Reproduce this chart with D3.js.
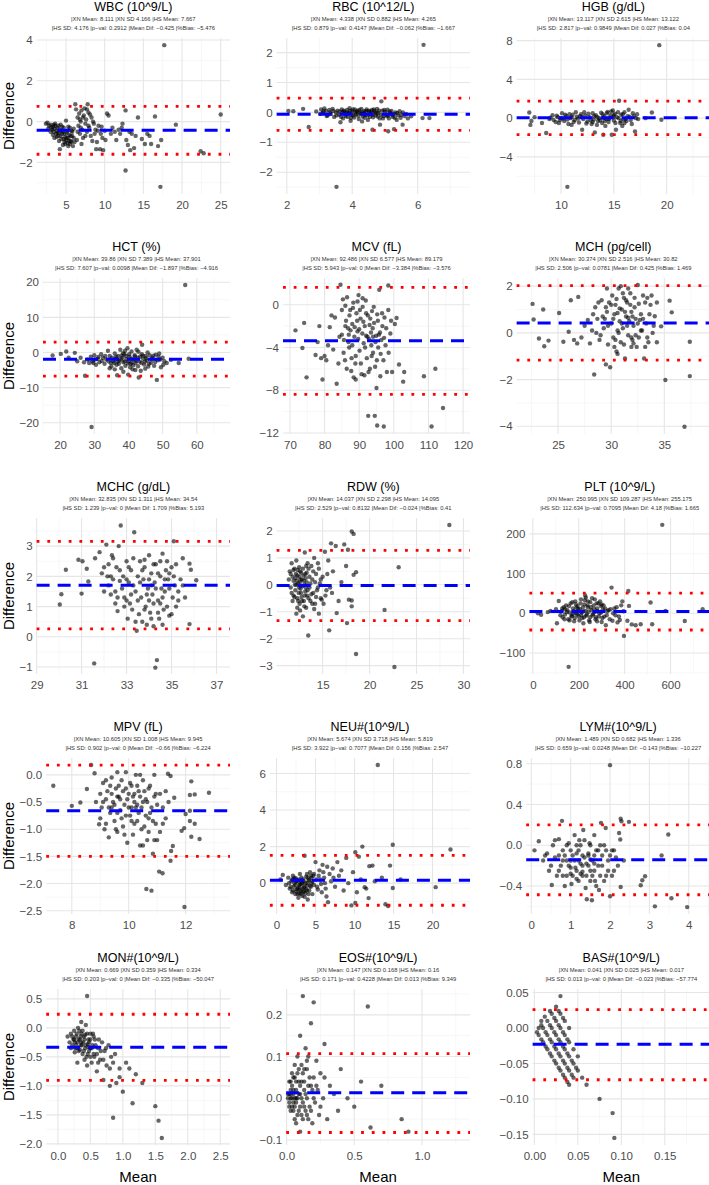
<!DOCTYPE html>
<html><head><meta charset="utf-8">
<script src="https://cdn.jsdelivr.net/npm/d3@7"></script>
<style>body{margin:0;background:#fff}svg{display:block}</style>
</head><body>
<svg id="chart" width="709" height="1185"></svg>
<script>
// ---------------- DATA ----------------
const titles = ["WBC (10^9/L)","RBC (10^12/L)","HGB (g/dL)","HCT (%)","MCV (fL)","MCH (pg/cell)","MCHC (g/dL)","RDW (%)","PLT (10^9/L)","MPV (fL)","NEU#(10^9/L)","LYM#(10^9/L)","MON#(10^9/L)","EOS#(10^9/L)","BAS#(10^9/L)"];
const subtitle1 = [
 "|XN Mean: 8.111 |XN SD 4.166 |HS Mean: 7.667",
 "|XN Mean: 4.338 |XN SD 0.882 |HS Mean: 4.265",
 "|XN Mean: 13.117 |XN SD 2.615 |HS Mean: 13.122",
 "|XN Mean: 39.86 |XN SD 7.389 |HS Mean: 37.901",
 "|XN Mean: 92.486 |XN SD 6.577 |HS Mean: 89.179",
 "|XN Mean: 30.374 |XN SD 2.516 |HS Mean: 30.82",
 "|XN Mean: 32.835 |XN SD 1.311 |HS Mean: 34.54",
 "|XN Mean: 14.037 |XN SD 2.298 |HS Mean: 14.095",
 "|XN Mean: 250.995 |XN SD 109.287 |HS Mean: 255.175",
 "|XN Mean: 10.605 |XN SD 1.008 |HS Mean: 9.945",
 "|XN Mean: 5.674 |XN SD 3.718 |HS Mean: 5.819",
 "|XN Mean: 1.489 |XN SD 0.682 |HS Mean: 1.336",
 "|XN Mean: 0.669 |XN SD 0.359 |HS Mean: 0.334",
 "|XN Mean: 0.147 |XN SD 0.168 |HS Mean: 0.16",
 "|XN Mean: 0.041 |XN SD 0.025 |HS Mean: 0.017"];
const subtitle2 = [
 "|HS SD: 4.176 |p\u2212val: 0.2912 |Mean Dif: \u22120.425 |%Bias: \u22125.476",
 "|HS SD: 0.879 |p\u2212val: 0.4147 |Mean Dif: \u22120.062 |%Bias: \u22121.667",
 "|HS SD: 2.817 |p\u2212val: 0.9849 |Mean Dif: 0.027 |%Bias: 0.04",
 "|HS SD: 7.607 |p\u2212val: 0.0098 |Mean Dif: \u22121.897 |%Bias: \u22124.916",
 "|HS SD: 5.943 |p\u2212val: 0 |Mean Dif: \u22123.384 |%Bias: \u22123.576",
 "|HS SD: 2.506 |p\u2212val: 0.0781 |Mean Dif: 0.425 |%Bias: 1.469",
 "|HS SD: 1.239 |p\u2212val: 0 |Mean Dif: 1.709 |%Bias: 5.193",
 "|HS SD: 2.529 |p\u2212val: 0.8132 |Mean Dif: \u22120.024 |%Bias: 0.41",
 "|HS SD: 112.634 |p\u2212val: 0.7095 |Mean Dif: 4.18 |%Bias: 1.665",
 "|HS SD: 0.902 |p\u2212val: 0 |Mean Dif: \u22120.66 |%Bias: \u22126.224",
 "|HS SD: 3.922 |p\u2212val: 0.7077 |Mean Dif: 0.156 |%Bias: 2.547",
 "|HS SD: 0.659 |p\u2212val: 0.0248 |Mean Dif: \u22120.143 |%Bias: \u221210.227",
 "|HS SD: 0.203 |p\u2212val: 0 |Mean Dif: \u22120.335 |%Bias: \u221250.047",
 "|HS SD: 0.171 |p\u2212val: 0.4228 |Mean Dif: 0.013 |%Bias: 9.349",
 "|HS SD: 0.013 |p\u2212val: 0 |Mean Dif: \u22120.023 |%Bias: \u221257.774"];
const meanDiff = [-0.425,-0.062,0.027,-1.897,-3.384,0.425,1.709,-0.024,4.18,-0.66,0.156,-0.143,-0.335,0.013,-0.023];
const upperLoA = [0.75,0.48,1.76,2.95,1.62,2.02,3.16,1.28,50.5,0.18,1.52,0.20,0.235,0.107,0.026];
const lowerLoA = [-1.60,-0.60,-1.71,-6.75,-8.39,-1.17,0.26,-1.33,-42.1,-1.50,-1.21,-0.486,-0.905,-0.082,-0.073];
const xDomains = [[1.2,26.2],[1.69,7.6],[5.8,24.1],[15,69.7],[68,122],[21.1,39.3],[29,37.6],[10.1,30.7],[-15,772],[7.1,13.56],[-0.85,24.8],[-0.13,4.54],[-0.18,2.65],[-0.003,1.355],[-0.002,0.202]];
const yDomains = [[-3.55,4.1],[-2.73,2.49],[-7.83,8.27],[-23.2,21.2],[-12.1,2.5],[-4.33,2.35],[-1.23,3.93],[-3.31,2.48],[-153,240],[-2.56,0.31],[-1.69,6.85],[-0.675,0.857],[-2.02,0.67],[-0.112,0.262],[-0.165,0.055]];
const xTicks = [[5,10,15,20,25],[2,4,6],[10,15,20],[20,30,40,50,60],[70,80,90,100,110,120],[25,30,35],[29,31,33,35,37],[15,20,25,30],[0,200,400,600],[8,10,12],[0,5,10,15,20],[0,1,2,3,4],[0,0.5,1,1.5,2,2.5],[0,0.5,1],[0,0.05,0.1,0.15]];
const yTicks = [[-2,0,2,4],[-2,-1,0,1,2],[-4,0,4,8],[-20,-10,0,10,20],[-12,-8,-4,0],[-4,-2,0,2],[-1,0,1,2,3],[-3,-2,-1,0,1,2],[-100,0,100,200],[-2.5,-2,-1.5,-1,-0.5,0],[0,2,4,6],[-0.4,0,0.4,0.8],[-2,-1.5,-1,-0.5,0,0.5],[-0.1,0,0.1,0.2],[-0.15,-0.1,-0.05,0,0.05]];
const xTickDecimals = [0,0,0,0,0,0,0,0,0,0,0,0,1,1,2];
const yTickDecimals = [0,0,0,0,0,0,0,0,0,1,0,1,1,1,2];

const wbcPts = [[2.4,-0.1],[2.6,-0.05],[2.8,-0.2],[3.0,-0.15],[3.1,-0.3],[3.2,-0.4],[3.3,-0.25],[3.4,-0.5],[3.5,-0.35],[3.6,-0.2],[3.7,-0.6],[3.8,-0.45],[3.9,-0.3],[4.0,-0.7],[4.1,-0.55],[4.2,-0.4],[4.3,-0.15],[4.4,-0.85],[4.5,-0.6],[4.6,-0.5],[4.7,-0.3],[4.8,-1.0],[4.9,-0.75],[5.0,-0.9],[5.1,-0.55],[5.2,-1.05],[5.3,-0.8],[5.4,-0.65],[5.5,-1.1],[5.6,-0.95],[5.7,-0.45],[5.8,-0.7],[5.9,-1.2],[6.0,-0.35],[4.2,-1.35],[3.6,-0.1],[5.0,0.05],[5.3,-0.25],[4.6,-1.15],[5.7,-1.0],[6.2,0.85],[6.3,0.6],[6.5,0.2],[6.6,-0.2],[6.7,0.4],[6.8,-0.6],[6.9,0.0],[7.0,0.55],[7.1,-0.4],[7.2,-0.8],[7.3,0.3],[7.4,0.65],[7.5,-0.1],[7.6,0.1],[7.7,-0.5],[7.8,0.85],[7.9,0.45],[8.0,-0.3],[8.2,-0.7],[8.3,0.2],[8.4,-0.95],[8.6,-0.1],[8.8,-0.4],[9.0,-1.0],[9.2,-0.2],[9.4,-1.35],[9.5,-0.6],[9.7,-0.8],[9.8,-1.4],[10.0,-0.45],[6.4,-0.9],[7.0,-1.1],[8.5,0.0],[10.3,0.4],[10.5,0.3],[11.0,-0.3],[11.3,-0.5],[11.8,-0.4],[12.0,-0.6],[12.3,-0.1],[12.7,0.55],[12.8,-0.9],[13.0,-1.15],[13.2,-0.5],[13.5,-0.6],[13.8,-1.3],[14.0,-0.7],[14.3,0.2],[14.8,-0.85],[15.2,-1.1],[15.5,-0.6],[15.8,-0.7],[16.0,-1.1],[16.5,0.25],[16.9,-1.2],[17.3,-0.9],[13.3,-1.4],[17.7,3.75],[12.7,-2.4],[17.2,-3.2],[19.2,-0.15],[22.4,-1.45],[22.8,-1.55],[25.0,0.35],
 [2.7,-0.35],[3.0,-0.5],[3.3,-0.65],[3.5,-0.8],[3.9,-0.55],[4.1,-0.95],[4.3,-0.7],[4.5,-0.25],[4.7,-0.85],[4.9,-1.1],[5.1,-0.8],[5.2,-0.45],[5.4,-0.95],[5.5,-0.3],[5.6,-0.7],[5.8,-0.5],[6.0,-0.8],[6.1,-1.0],[4.0,-0.2],[4.4,-0.45],[4.8,-0.6],[5.3,-1.2],[3.8,-0.75],[3.4,-0.15],[6.5,-0.5],[6.8,0.1],[7.2,0.2],[7.5,-0.7],[7.9,-0.2],[8.1,0.35],[8.7,-0.6],[9.1,-0.45],[9.6,-0.25],[10.1,-0.9],[10.8,-0.6],[11.5,-0.9],[6.9,-0.3],[7.7,0.6],[8.9,-1.35],[12.2,-0.3]];
const rbcPts = [[2.05,0.05],[2.2,0.04],[2.5,0.12],[2.9,0.03],[2.67,-0.49],[3.05,0.1],[3.1,-0.02],[3.15,0.13],[3.2,0.05],[3.25,-0.1],[3.3,0.08],[3.35,-0.05],[3.4,0.12],[3.45,-0.15],[3.5,0.0],[3.55,0.06],[3.6,-0.08],[3.64,-0.33],[3.68,0.1],[3.72,-0.2],[3.76,0.02],[3.8,-0.12],[3.84,0.08],[3.88,-0.04],[3.92,0.14],[3.96,-0.18],[4.0,0.03],[4.04,-0.1],[4.08,0.1],[4.12,-0.06],[4.16,0.06],[4.2,-0.22],[4.24,0.0],[4.28,0.12],[4.32,-0.14],[4.36,0.04],[4.4,-0.08],[4.44,0.1],[4.48,-0.25],[4.52,0.02],[4.56,-0.05],[4.6,0.08],[4.64,-0.16],[4.68,0.05],[4.72,-0.1],[4.76,0.12],[4.8,-0.02],[4.84,-0.2],[4.89,0.37],[4.92,0.06],[4.96,-0.12],[5.0,0.02],[5.04,-0.07],[5.08,0.09],[5.12,-0.2],[5.16,-0.03],[5.2,0.05],[5.24,-0.15],[5.28,-0.05],[5.32,0.0],[5.36,-0.25],[5.4,-0.1],[5.45,0.04],[5.5,-0.08],[5.6,-0.12],[5.8,-0.13],[3.9,-0.02],[4.3,-0.05],[4.5,0.06],[4.1,0.0],[3.7,0.0],[4.7,0.0],[5.1,-0.1],[6.18,2.26],[3.52,-2.49],[4.62,-0.58],[5.1,-0.63],[5.28,-0.56],[5.54,-0.41],[4.85,-0.41],[6.15,-0.19],[6.36,-0.19],[4.3,-0.3],[3.95,-0.28],
 [3.02,-0.05],[3.12,0.04],[3.22,-0.12],[3.32,0.0],[3.42,0.05],[3.52,-0.1],[3.62,0.03],[3.66,-0.15],[3.74,0.06],[3.78,-0.06],[3.82,0.0],[3.86,-0.15],[3.94,0.05],[3.98,-0.08],[4.02,0.1],[4.06,-0.17],[4.14,0.02],[4.18,-0.1],[4.22,0.08],[4.26,-0.04],[4.34,0.0],[4.38,-0.18],[4.42,0.04],[4.46,-0.1],[4.54,-0.15],[4.58,0.02],[4.62,-0.08],[4.66,0.1],[4.74,-0.03],[4.78,-0.14],[4.82,0.06],[4.88,-0.08],[4.94,-0.2],[4.98,0.08],[5.06,-0.12],[5.14,0.03],[5.22,-0.08],[5.3,-0.18],[5.38,-0.02],[5.48,-0.18],[5.55,0.0],[5.65,-0.05],[5.7,-0.2]];
const hgbPts = [[7.0,0.58],[7.1,-0.7],[7.2,-0.3],[7.5,0.1],[8.2,-0.5],[8.6,-1.54],[8.9,-0.1],[9.2,0.3],[9.5,-0.4],[9.7,0.1],[9.9,-0.2],[10.1,0.5],[10.3,-0.3],[10.5,0.2],[10.7,-0.6],[10.9,0.0],[11.1,0.35],[11.3,-0.2],[11.5,0.15],[11.7,-0.45],[11.9,0.4],[12.0,-1.2],[12.1,-0.1],[12.3,0.25],[12.5,-0.35],[12.7,0.1],[12.9,-0.6],[13.0,0.5],[13.1,-0.15],[13.2,-1.47],[13.3,0.3],[13.5,-0.3],[13.6,0.0],[13.8,0.55],[13.9,-0.5],[14.0,-1.71],[14.1,0.2],[14.3,-0.1],[14.4,0.65],[14.5,-0.4],[14.6,0.05],[14.7,0.3],[14.8,-1.71],[14.9,0.8],[15.0,-0.25],[15.1,0.45],[15.2,-1.2],[15.3,0.1],[15.5,1.8],[15.6,-0.5],[15.7,0.35],[15.9,-0.1],[16.0,0.6],[16.2,-0.3],[16.4,0.86],[16.5,0.15],[16.7,-0.6],[16.9,0.2],[17.0,-1.37],[17.2,0.4],[17.3,-0.1],[12.2,0.6],[11.0,-0.7],[10.2,-0.05],[13.4,-0.7],[14.2,-0.8],[15.8,-0.8],[9.0,0.05],[16.8,0.5],[19.3,7.53],[10.6,-7.09],[18.6,0.58],[19.5,-0.17],[18.0,0.0],
 [9.3,-0.2],[9.6,0.25],[9.8,-0.5],[10.0,0.0],[10.4,0.35],[10.6,-0.15],[10.8,0.4],[11.2,-0.4],[11.4,0.6],[11.6,-0.05],[11.8,0.2],[12.4,-0.55],[12.6,0.45],[12.8,-0.2],[13.15,0.2],[13.45,0.1],[13.7,-0.25],[13.95,0.4],[14.15,-0.3],[14.35,0.5],[14.55,-0.1],[14.75,0.7],[14.95,0.1],[15.15,-0.5],[15.4,0.6],[15.45,0.0],[15.65,-0.3],[15.85,0.4],[16.1,-0.1],[16.3,0.2],[16.6,-0.2],[17.1,0.0],[12.0,0.1],[13.0,-0.4],[14.0,0.0],[15.0,0.3],[16.0,-0.5],[11.0,0.1]];
const hctPts = [[17.8,-0.85],[20.2,-0.4],[21.8,0.3],[24.3,-0.1],[22.5,-1.5],[25.0,-2.5],[26.0,-1.5],[27.3,-6.6],[28.0,-2.0],[28.5,-3.0],[29.0,-1.2],[29.5,-2.5],[30.0,-0.8],[30.5,-3.5],[31.0,-1.8],[31.5,-2.8],[32.0,-0.5],[32.5,-1.5],[33.0,-3.2],[33.5,-2.0],[34.0,0.5],[34.5,-1.0],[35.0,-4.0],[35.5,-2.5],[36.0,-0.3],[36.2,-1.8],[36.5,-3.5],[36.7,-6.5],[37.0,-1.0],[37.3,-2.3],[37.6,0.8],[37.9,-4.5],[38.2,-1.5],[38.5,-2.8],[38.8,-0.5],[39.1,-3.8],[39.4,-1.9],[39.7,1.2],[39.9,-6.3],[40.0,-2.5],[40.3,-1.2],[40.6,-3.2],[40.9,0.3],[41.2,-4.8],[41.5,-2.0],[41.8,-0.8],[42.1,-3.0],[42.4,0.8],[42.7,-1.5],[43.0,-7.1],[43.3,-2.6],[43.6,-5.2],[43.9,-0.5],[44.0,2.2],[44.3,-1.8],[44.6,-3.4],[45.0,-1.0],[45.4,-2.3],[45.8,-4.0],[46.2,-0.8],[46.6,-2.9],[47.0,-1.5],[47.5,-3.8],[48.0,-0.6],[48.3,-7.8],[48.6,-2.2],[49.0,-0.3],[49.5,-4.2],[50.0,-1.5],[50.5,-2.5],[51.2,-3.0],[52.4,-2.1],[54.7,-3.0],[56.6,19.2],[57.6,-1.8],[29.2,-21.2],[34.8,-3.0],[38.0,-0.9],[41.0,-2.9],[44.9,-4.6],[39.0,0.5],[36.8,-2.6],[42.8,-3.9],
 [33.2,-1.0],[34.2,-2.5],[35.2,-1.5],[35.8,-3.0],[36.4,-1.2],[37.2,-3.2],[37.8,-2.0],[38.4,-0.2],[38.9,-2.6],[39.3,-1.0],[39.8,-3.1],[40.2,-0.5],[40.8,-1.8],[41.4,-3.6],[41.9,-1.1],[42.3,-2.4],[42.9,0.2],[43.4,-1.2],[43.8,-3.0],[44.2,-0.9],[44.8,-2.6],[45.2,-1.6],[45.6,0.0],[46.0,-3.2],[46.8,-1.9],[47.3,-0.9],[47.8,-2.7],[48.8,-1.2],[49.3,-2.0],[50.2,-3.5],[32.2,-2.4],[31.2,-1.3],[30.2,-2.0],[27.0,-2.8],[29.7,-3.0],[34.5,-4.5],[36.0,-4.8],[38.5,-5.5],[40.5,-4.2],[42.0,-5.0]];
const mcvPts = [[71.6,-2.4],[74.1,-1.7],[73.6,-4.05],[74.8,-6.8],[78.0,-3.5],[78.5,-2.0],[77.4,-4.7],[79.0,-5.0],[79.4,-7.0],[80.0,-4.8],[80.5,-5.2],[81.0,-3.8],[81.5,-2.1],[82.0,-1.0],[82.5,-4.2],[83.0,-1.2],[83.5,-7.4],[84.0,-5.5],[84.6,1.87],[85.0,-2.8],[85.3,0.5],[85.6,-3.3],[85.9,-5.2],[86.2,-1.5],[86.5,0.7],[86.8,-2.2],[87.1,-4.0],[87.4,-0.5],[87.7,-6.2],[88.0,-1.8],[88.3,0.2],[88.6,-3.0],[88.9,-5.5],[89.2,-0.8],[89.5,-2.5],[89.8,0.9],[90.1,-4.3],[90.4,-1.3],[90.7,-6.5],[91.0,-0.2],[91.3,-3.6],[91.6,-2.0],[91.9,0.4],[92.2,-5.0],[92.5,-1.0],[92.8,-3.2],[93.1,-6.0],[93.4,-2.6],[93.7,-0.6],[94.0,-4.5],[94.3,-1.7],[94.6,-5.8],[94.9,-2.9],[95.2,-0.9],[95.5,-4.0],[95.8,1.4],[96.1,-6.7],[96.4,-3.3],[96.7,-2.0],[97.0,-5.2],[97.3,-1.2],[97.6,-3.8],[98.0,-6.3],[98.4,1.8],[98.4,-0.5],[99.0,-2.7],[99.5,-6.3],[100.3,-1.8],[100.8,-1.25],[101.5,-5.6],[102.7,-7.2],[103.0,-6.3],[108.7,-6.7],[112.0,-6.0],[114.2,-9.66],[110.9,-11.4],[92.6,-10.4],[94.5,-10.4],[95.2,-11.3],[97.1,-11.4],[95.0,-7.8],[89.0,-7.0],[91.5,-6.6],[87.5,-2.4],[90.0,-2.3],[92.0,-2.9],[93.0,-1.9],[88.0,-3.8],[86.0,-0.1],[94.0,-3.0],[96.0,-2.6],
 [84.3,-3.0],[85.0,-0.5],[85.5,-4.5],[86.0,-2.0],[86.4,-6.0],[86.9,-3.5],[87.2,-1.0],[87.8,-5.0],[88.2,-0.3],[88.7,-2.1],[89.0,-4.8],[89.4,-1.5],[89.7,-3.2],[90.2,-0.5],[90.5,-5.5],[90.9,-2.7],[91.2,-1.6],[91.7,-4.0],[92.0,-0.8],[92.4,-3.0],[92.7,-6.3],[93.2,-1.3],[93.6,-4.8],[93.9,-2.2],[94.2,-0.2],[94.7,-3.5],[95.1,-5.2],[95.4,-1.5],[95.7,-2.8],[96.2,-4.6],[96.6,-0.8],[97.2,-3.1],[97.8,-2.2],[98.5,-4.5],[99.2,-1.5],[89.5,0.3],[91.0,0.6],[87.0,-2.8],[93.5,-3.8],[88.4,-6.8]];
const mchPts = [[22.6,1.24],[22.7,0.57],[23.6,1.0],[23.2,-0.24],[23.7,-0.57],[24.1,-0.33],[25.1,0.85],[25.5,-0.38],[26.2,1.4],[26.0,0.05],[26.5,-0.3],[26.8,-0.45],[26.9,1.54],[27.2,-0.2],[27.5,0.3],[27.8,0.55],[28.0,-0.45],[28.2,0.1],[28.4,-1.78],[28.5,1.1],[28.7,0.6],[28.9,-0.3],[29.1,1.4],[29.3,0.2],[29.5,-1.35],[29.6,0.9],[29.7,-0.5],[29.8,1.3],[29.9,-1.47],[30.0,0.4],[30.1,1.6],[30.2,-0.2],[30.3,0.8],[30.4,1.2],[30.5,-0.8],[30.6,0.1],[30.7,1.9],[30.8,0.5],[30.9,-0.4],[31.0,1.0],[31.1,0.2],[31.2,1.5],[31.3,-1.1],[31.4,0.7],[31.5,1.3],[31.6,-0.1],[31.7,0.5],[31.8,1.7],[31.9,0.9],[32.0,-0.3],[32.1,0.3],[32.2,1.1],[32.3,0.6],[32.5,2.05],[32.6,-0.2],[32.8,0.8],[33.0,1.6],[33.1,-1.1],[33.3,0.4],[33.5,-0.4],[33.7,1.2],[33.9,0.0],[34.1,0.71],[34.3,-0.4],[34.7,0.28],[35.1,-2.02],[35.5,1.38],[35.7,0.88],[36.9,-4.02],[37.4,-1.85],[37.4,-0.38],[30.6,-0.9],[31.9,-0.6],[29.4,0.6],[32.9,0.1],[30.9,2.0],[31.6,1.9],[28.6,0.0],[33.4,1.5],[32.4,-0.6],
 [28.3,0.8],[28.8,1.3],[29.0,-0.1],[29.2,0.7],[29.5,1.1],[29.7,0.3],[30.0,1.2],[30.2,0.6],[30.4,-0.3],[30.5,1.45],[30.7,0.0],[30.8,1.05],[31.0,0.4],[31.2,-0.5],[31.3,0.9],[31.5,0.3],[31.6,0.65],[31.8,1.2],[31.9,-0.2],[32.0,0.7],[32.2,1.5],[32.3,-0.1],[32.5,0.4],[32.6,1.25],[32.8,0.1],[33.0,0.6],[33.2,1.3],[33.4,-0.2],[33.6,0.8],[33.8,1.6],[34.0,0.3],[34.3,1.3],[29.6,1.9],[31.1,1.7],[30.3,-0.6],[32.1,-0.45],[33.2,-0.6],[31.4,1.4],[30.6,0.85],[32.7,0.55]];
const mchcPts = [[30.03,1.07],[30.1,1.41],[30.3,2.22],[30.86,2.55],[31.04,2.5],[31.0,1.43],[31.23,2.25],[31.3,1.83],[31.56,-0.88],[31.6,2.6],[31.8,2.8],[31.9,2.1],[32.0,1.5],[32.1,3.05],[32.15,2.0],[32.2,2.4],[32.3,1.4],[32.35,2.7],[32.4,1.9],[32.5,1.1],[32.55,2.3],[32.6,0.85],[32.65,3.0],[32.74,3.68],[32.8,1.6],[32.85,2.0],[32.9,1.3],[33.0,2.5],[33.05,0.6],[33.1,1.8],[33.15,1.1],[33.2,2.2],[33.25,0.9],[33.34,3.46],[33.4,1.5],[33.45,0.2],[33.5,2.0],[33.55,0.75],[33.6,2.5],[33.65,1.3],[33.7,0.5],[33.75,1.9],[33.8,2.3],[33.85,1.0],[33.9,0.4],[33.95,1.6],[34.0,2.7],[34.05,0.8],[34.1,2.1],[34.15,1.4],[34.2,0.35],[34.25,1.8],[34.28,-1.02],[34.35,-0.77],[34.3,2.4],[34.4,1.2],[34.45,0.6],[34.5,2.0],[34.55,1.6],[34.6,2.75],[34.65,0.9],[34.7,1.5],[34.75,2.2],[34.8,1.0],[34.85,1.9],[34.9,0.7],[35.0,2.3],[35.05,1.3],[35.1,3.16],[35.15,1.7],[35.2,1.0],[35.3,1.5],[35.5,2.6],[35.6,1.3],[35.8,0.42],[35.8,2.42],[35.86,2.22],[36.1,1.87],[33.3,1.7],[34.0,1.2],[32.7,1.85],[33.8,2.55],[34.4,2.1],
 [32.0,2.3],[32.2,1.7],[32.4,2.6],[32.5,1.5],[32.7,2.2],[32.9,1.0],[33.0,1.9],[33.2,1.4],[33.3,2.6],[33.5,1.2],[33.6,1.8],[33.7,2.2],[33.9,1.4],[34.0,1.9],[34.1,0.6],[34.2,2.4],[34.3,1.6],[34.4,0.8],[34.5,2.5],[34.6,1.3],[34.7,1.9],[34.8,2.5],[34.9,1.6],[35.0,0.75],[35.1,2.0],[35.2,2.4],[35.3,1.2],[35.4,1.9],[34.2,1.1],[33.4,0.5],[34.6,0.4],[33.1,2.3],[32.6,1.3],[34.9,2.1],[35.5,1.7],[33.8,0.9],[34.5,1.1],[33.0,1.2],[32.3,2.0],[34.1,1.7]];
const rdwPts = [[11.4,0.2],[11.5,0.5],[11.6,-0.1],[11.7,0.8],[11.8,0.3],[11.9,-0.4],[12.0,0.6],[12.05,0.0],[12.1,-0.2],[12.15,0.4],[12.2,-1.07],[12.25,0.15],[12.3,-0.5],[12.35,0.55],[12.4,0.05],[12.45,-0.3],[12.5,0.3],[12.55,-0.7],[12.6,0.1],[12.65,-0.15],[12.7,0.45],[12.75,-0.45],[12.8,0.2],[12.85,-0.05],[12.9,-1.17],[12.95,0.35],[13.0,-0.6],[13.05,0.0],[13.1,1.2],[13.15,-0.25],[13.2,0.25],[13.25,-0.85],[13.3,0.1],[13.35,-0.4],[13.47,-1.88],[13.5,0.6],[13.6,-0.1],[13.7,-0.6],[13.8,0.7],[13.9,0.2],[14.0,-0.3],[14.1,1.0],[14.2,-0.7],[14.3,0.4],[14.4,-0.2],[14.5,0.8],[14.6,-1.07],[14.7,0.05],[14.8,-0.5],[15.0,0.3],[15.25,1.23],[15.3,-0.4],[15.5,0.4],[15.7,-1.69],[15.8,-0.1],[15.9,1.54],[16.1,0.5],[16.4,1.44],[16.5,-1.05],[16.7,-0.6],[17.0,0.1],[17.3,1.5],[17.5,0.7],[17.6,-1.42],[17.8,-0.55],[18.1,1.98],[18.1,-0.8],[18.1,-0.58],[18.3,1.89],[18.3,0.37],[18.56,0.47],[18.56,-2.57],[17.7,1.3],[16.0,-0.3],[21.6,-0.93],[22.65,-3.05],[23.1,0.65],[28.5,2.22],[12.2,0.9],[11.8,-0.6],[13.4,0.8],[12.6,-0.95],[14.9,-0.55],
 [11.6,0.4],[11.7,-0.3],[11.9,0.15],[12.0,-0.45],[12.1,0.25],[12.2,0.0],[12.3,0.35],[12.4,-0.6],[12.5,-0.1],[12.6,0.5],[12.7,-0.3],[12.8,-0.6],[12.9,0.6],[13.0,0.15],[13.1,-0.4],[13.2,-0.1],[13.3,0.45],[13.4,-0.2],[13.5,-0.5],[13.6,0.3],[13.7,0.05],[13.8,-0.35],[13.9,-0.7],[14.0,0.5],[14.2,0.1],[14.3,-0.45],[14.5,-0.1],[14.6,0.6],[14.8,0.2],[15.1,-0.7],[15.4,-0.2],[15.6,0.9],[12.3,-0.85],[12.5,0.65],[13.05,-0.8],[13.25,0.7],[11.9,0.55],[12.65,0.2],[13.15,0.4],[14.1,-0.9]];
const pltPts = [[22,0],[36,-4],[65,3],[77,6],[101,10],[105,-25],[113,31],[125,5],[130,-10],[135,15],[140,-3],[145,20],[150,8],[155,-15],[156,-135],[160,2],[165,25],[170,-6],[175,12],[180,-20],[185,30],[190,0],[195,18],[200,-8],[205,10],[210,35],[215,-12],[220,5],[225,22],[228,45],[231,39.5],[235,-3],[240,15],[245,-18],[250,28],[255,8],[260,-5],[265,20],[270,35],[275,-10],[280,12],[285,25],[290,0],[296,18.5],[300,-22],[305,10],[311,-8.4],[318,-30],[325,5],[335,-15],[343,64.7],[347,-19],[355,12],[360,-5],[369,-23],[379,-17],[385,20],[390,30],[397,-57],[412,-19],[416,56],[419,18.5],[431,-28],[448,-30],[470,-27.7],[513,27],[520,-27.7],[564,222.7],[578,6],[662,-19.3],[740,10],[175,-2],[210,-4],[250,-10],[190,14],[230,6],[270,3],[300,22],[160,-18],[240,30],[280,-20],[140,10],[220,-25],[330,8],[395,5],
 [120,-5],[128,12],[138,-15],[148,3],[158,18],[168,-8],[172,28],[178,5],[183,-12],[188,22],[193,-3],[198,10],[203,-18],[208,25],[213,2],[218,15],[223,-10],[227,33],[233,-6],[238,20],[243,4],[248,-22],[253,15],[258,38],[263,-2],[268,10],[273,-15],[278,25],[283,5],[288,-8],[293,30],[298,2],[303,-12],[308,20],[315,12],[322,-5],[338,10],[350,0],[365,15],[375,-8]];
const mpvPts = [[7.35,-0.2],[8.0,-0.57],[8.3,-0.51],[8.53,-0.26],[8.68,0.18],[8.8,0.03],[8.96,-0.91],[8.85,-0.5],[9.0,-0.35],[9.05,-0.6],[9.1,-0.15],[9.15,-1.0],[9.2,-0.45],[9.25,-0.3],[9.3,-1.15],[9.35,-0.7],[9.4,-0.05],[9.45,-0.5],[9.5,-0.85],[9.55,-0.25],[9.6,-1.05],[9.65,-0.4],[9.7,-0.65],[9.75,-0.1],[9.8,-0.95],[9.85,-0.55],[9.9,0.05],[9.95,-1.25],[10.0,-0.35],[10.05,-0.75],[10.1,-0.2],[10.15,-1.1],[10.2,-0.5],[10.25,0.0],[10.3,-0.85],[10.35,-0.3],[10.4,-1.3],[10.45,-0.6],[10.5,-0.1],[10.55,-0.95],[10.6,-0.45],[10.62,-2.1],[10.65,-1.2],[10.7,-0.25],[10.75,-0.7],[10.8,-2.13],[10.85,-1.45],[10.9,-0.4],[10.95,-0.9],[11.0,-0.55],[11.07,-1.78],[11.1,-1.05],[11.19,-1.81],[11.2,-0.6],[11.3,-0.8],[11.38,0.02],[11.47,-0.02],[11.47,-1.58],[11.49,-1.4],[11.55,-1.31],[11.6,-0.42],[11.86,-1.03],[11.95,-0.98],[11.96,-2.43],[12.0,-0.72],[12.15,-0.66],[12.15,-0.85],[12.15,-0.37],[12.2,-0.12],[12.2,-1.14],[12.32,-0.36],[12.32,-0.9],[12.49,-1.18],[12.82,-0.33],[9.6,-0.4],[10.3,-0.55],[9.9,-0.75],[10.0,-0.6],[10.7,-0.8],[10.2,-0.35],[9.4,-0.6],[11.4,-0.5],[10.5,-1.3],[9.2,-0.9],[9.6,0.05],[10.4,0.0],[10.9,0.0],
 [9.0,-0.8],[9.1,-0.5],[9.2,-0.1],[9.3,-0.6],[9.4,-0.35],[9.5,-0.55],[9.55,-1.0],[9.65,-0.2],[9.7,-0.45],[9.75,-0.8],[9.8,-0.3],[9.85,-1.1],[9.95,-0.45],[10.05,-0.15],[10.1,-0.6],[10.15,-0.4],[10.2,-0.9],[10.25,-0.6],[10.3,-0.2],[10.35,-0.7],[10.4,-0.4],[10.45,-1.0],[10.55,-0.3],[10.6,-0.75],[10.65,-0.5],[10.7,-1.05],[10.75,-0.2],[10.8,-0.6],[10.85,-0.85],[10.95,-0.35],[11.0,-1.2],[11.1,-0.35],[11.2,-0.9],[9.35,-0.2],[9.9,-0.25],[10.1,-0.85],[10.5,-0.5],[9.6,-0.7],[10.9,-1.2],[11.3,-0.3]];
const neuPts = [[0.5,0.2],[0.8,0.45],[1.2,-0.1],[1.5,0.3],[1.7,-0.3],[1.9,0.1],[2.0,-0.5],[2.1,0.4],[2.2,-0.2],[2.3,0.0],[2.4,-0.6],[2.5,0.25],[2.6,-0.35],[2.7,0.1],[2.8,-0.8],[2.9,-0.1],[3.0,0.5],[3.1,-0.45],[3.2,-0.05],[3.3,-0.7],[3.4,0.2],[3.5,-0.25],[3.6,1.5],[3.7,-0.55],[3.8,0.35],[3.9,-0.15],[4.0,-0.9],[4.1,0.15],[4.2,-0.4],[4.3,0.6],[4.4,-0.2],[4.5,0.0],[4.6,-0.6],[4.7,0.4],[4.8,-0.1],[5.0,1.15],[5.1,0.2],[5.3,-0.35],[5.5,0.7],[5.7,-0.05],[5.9,1.0],[6.1,0.3],[6.3,-0.3],[6.4,-0.73],[6.6,-1.04],[6.8,0.5],[7.0,0.1],[7.2,0.8],[7.5,-0.2],[7.8,1.15],[8.0,0.4],[8.3,0.7],[8.6,-0.4],[8.94,1.38],[9.2,0.0],[9.6,-1.22],[9.8,0.6],[10.1,1.69],[10.1,-1.09],[10.3,-0.5],[10.55,1.45],[10.8,0.2],[11.0,2.0],[11.3,-0.22],[11.5,-0.3],[11.8,-0.82],[11.9,0.93],[12.3,0.96],[12.6,0.1],[12.98,6.47],[13.5,0.3],[13.96,-1.16],[14.3,-1.25],[14.55,0.96],[14.9,2.1],[14.9,-0.27],[15.9,0.2],[20.4,-0.22],[22.3,1.84],[3.3,0.0],[2.7,-0.3],[3.9,-0.4],[2.2,0.2],[3.1,0.1],[4.5,0.3],[3.6,-0.2],[2.9,-0.55],
 [1.6,0.0],[1.8,-0.2],[2.0,0.2],[2.1,-0.4],[2.3,0.3],[2.4,-0.1],[2.5,-0.45],[2.6,0.15],[2.8,-0.25],[2.9,0.2],[3.0,-0.35],[3.1,-0.6],[3.2,0.3],[3.3,-0.3],[3.4,-0.5],[3.5,0.1],[3.6,-0.75],[3.7,0.0],[3.8,-0.35],[3.9,0.5],[4.0,0.0],[4.1,-0.6],[4.2,0.2],[4.3,-0.15],[4.4,0.4],[4.6,0.1],[4.8,0.5],[5.2,-0.2],[5.4,0.4],[5.6,0.2],[5.8,-0.5],[6.0,0.6],[6.2,0.0],[6.5,0.9],[7.3,0.3],[2.5,0.1],[3.0,-0.1],[3.5,-0.45],[2.7,-0.6],[4.0,0.3]];
const lymPts = [[0.08,-0.05],[0.19,0.04],[0.3,-0.15],[0.4,-0.08],[0.45,-0.25],[0.52,-0.39],[0.55,0.0],[0.6,-0.12],[0.65,-0.3],[0.7,0.06],[0.75,-0.2],[0.78,0.24],[0.8,-0.05],[0.85,-0.4],[0.9,-0.15],[0.95,0.02],[1.0,-0.28],[1.02,-0.38],[1.05,-0.1],[1.1,0.1],[1.12,-0.22],[1.15,-0.33],[1.2,-0.05],[1.22,0.05],[1.25,-0.18],[1.3,-0.3],[1.32,0.15],[1.35,-0.12],[1.38,-0.42],[1.41,-0.53],[1.45,-0.08],[1.48,0.02],[1.5,-0.25],[1.54,-0.54],[1.55,-0.15],[1.6,0.1],[1.62,-0.35],[1.65,-0.05],[1.7,-0.2],[1.72,-0.44],[1.77,0.22],[1.8,-0.1],[1.85,0.0],[1.89,0.17],[1.9,-0.3],[1.95,-0.15],[2.0,0.787],[2.0,-0.5],[2.05,-0.05],[2.1,-0.25],[2.15,-0.12],[2.23,0.12],[2.26,0.056],[2.27,0.26],[2.27,-0.41],[2.29,0.236],[2.35,-0.15],[2.48,0.23],[2.78,-0.393],[2.82,-0.344],[2.89,-0.305],[3.14,-0.6],[3.31,-0.1],[3.48,0.105],[3.56,-0.52],[3.96,-0.607],[1.0,-0.15],[1.3,-0.1],[1.5,-0.35],[0.7,-0.25],[1.15,0.0],[1.6,-0.25],[0.9,-0.3],[1.25,-0.28],[1.75,0.0],[1.45,-0.2],
 [0.35,-0.1],[0.5,-0.2],[0.6,0.05],[0.7,-0.1],[0.8,-0.3],[0.85,-0.1],[0.9,0.0],[0.95,-0.2],[1.0,-0.05],[1.05,-0.3],[1.1,-0.15],[1.15,-0.25],[1.2,-0.35],[1.25,0.0],[1.3,-0.2],[1.35,0.05],[1.4,-0.3],[1.45,-0.1],[1.5,0.0],[1.55,-0.3],[1.6,-0.1],[1.65,-0.4],[1.7,-0.05],[1.75,-0.3],[1.8,-0.2],[1.85,-0.35],[1.9,-0.05],[1.95,-0.25],[2.0,-0.1],[2.05,-0.3],[2.1,-0.05],[2.2,-0.2],[1.2,-0.15],[1.4,-0.18],[1.0,-0.22],[0.8,-0.15],[1.6,-0.18],[1.3,-0.26],[1.15,-0.08],[1.5,-0.14]];
const monPts = [[0.15,-0.15],[0.18,-0.25],[0.2,-0.1],[0.22,-0.3],[0.24,-0.2],[0.25,-0.05],[0.27,-0.35],[0.28,-0.15],[0.3,-0.25],[0.31,0.0],[0.32,-0.4],[0.34,-0.2],[0.35,-0.3],[0.36,-0.1],[0.38,-0.45],[0.39,-0.25],[0.4,-0.15],[0.42,-0.35],[0.43,0.05],[0.44,-0.5],[0.45,0.55],[0.46,-0.28],[0.47,-0.2],[0.48,-0.4],[0.5,-0.1],[0.52,-0.6],[0.53,-0.3],[0.55,-0.45],[0.57,-0.2],[0.6,-0.75],[0.62,-0.35],[0.65,-0.55],[0.68,-0.25],[0.7,-0.9],[0.72,-0.4],[0.75,-0.65],[0.78,-0.3],[0.8,-1.0],[0.82,-0.5],[0.85,-1.55],[0.88,-0.45],[0.9,-0.95],[0.95,-0.7],[1.0,-1.1],[1.05,-0.6],[1.15,-1.3],[1.2,-0.8],[1.3,-0.95],[1.5,-1.35],[1.55,-1.6],[1.6,-1.9],[0.3,-0.6],[0.41,-0.55],[0.36,0.1],[0.26,-0.42],[0.5,-0.35],[0.45,-0.65],[0.33,-0.05],[0.2,-0.35],[0.55,-0.15],
 [0.22,-0.15],[0.26,-0.25],[0.29,-0.1],[0.3,-0.35],[0.32,-0.2],[0.35,-0.15],[0.37,-0.3],[0.38,-0.05],[0.4,-0.4],[0.41,-0.2],[0.43,-0.3],[0.45,-0.1],[0.46,-0.45],[0.48,-0.25],[0.5,-0.2],[0.52,-0.35],[0.54,-0.1],[0.56,-0.5],[0.58,-0.3],[0.6,-0.45],[0.63,-0.2],[0.66,-0.4],[0.7,-0.55],[0.74,-0.35],[0.8,-0.7],[0.85,-0.6],[0.95,-0.85],[1.1,-0.7],[0.28,-0.3],[0.34,-0.38],[0.42,-0.12],[0.47,-0.33],[0.36,-0.25],[0.25,-0.2],[0.5,-0.5],[0.62,-0.6]];
const eosPts = [[0.01,0.0],[0.02,0.01],[0.02,-0.01],[0.03,0.02],[0.03,0.0],[0.04,-0.02],[0.04,0.03],[0.05,0.01],[0.05,-0.03],[0.06,0.05],[0.06,0.0],[0.07,-0.01],[0.07,0.02],[0.08,0.06],[0.08,-0.04],[0.09,0.01],[0.1,0.03],[0.1,-0.02],[0.11,0.08],[0.11,0.0],[0.12,0.245],[0.12,-0.05],[0.13,0.02],[0.13,0.04],[0.14,-0.03],[0.15,0.07],[0.15,0.0],[0.16,0.1],[0.17,-0.02],[0.18,0.18],[0.18,0.03],[0.19,-0.06],[0.2,0.23],[0.2,0.05],[0.21,-0.01],[0.22,0.09],[0.23,0.02],[0.24,-0.04],[0.25,0.06],[0.27,0.0],[0.28,0.13],[0.3,-0.05],[0.32,0.03],[0.35,0.01],[0.38,-0.03],[0.4,0.07],[0.45,0.0],[0.5,-0.02],[0.55,0.04],[0.6,0.22],[0.62,-0.07],[0.7,0.03],[0.85,-0.05],[0.9,-0.08],[0.06,-0.05],[0.09,0.07],[0.14,0.12],[0.04,0.06],[0.1,-0.08],[0.16,-0.05],[0.03,-0.03],[0.08,0.1],[0.12,0.06],[0.02,0.04],[0.05,0.05],[0.07,-0.06],[0.19,0.02],[0.1,0.15],
 [0.01,0.01],[0.02,-0.02],[0.03,0.01],[0.04,0.0],[0.05,0.02],[0.06,-0.02],[0.07,0.04],[0.08,0.0],[0.09,-0.03],[0.1,0.01],[0.11,0.04],[0.12,-0.01],[0.13,0.07],[0.14,0.01],[0.15,-0.04],[0.16,0.03],[0.17,0.05],[0.18,-0.03],[0.2,0.0],[0.22,0.03],[0.25,-0.02],[0.28,0.05],[0.03,0.04],[0.05,-0.01],[0.07,0.0],[0.09,0.04],[0.11,-0.04],[0.13,-0.02],[0.06,0.08],[0.15,0.09]];
const basPts = [[0.003,-0.006],[0.005,-0.01],[0.008,-0.016],[0.01,-0.02],[0.013,-0.026],[0.015,-0.03],[0.018,-0.036],[0.02,-0.04],[0.023,-0.046],[0.025,-0.05],[0.028,-0.056],[0.03,-0.06],[0.033,-0.066],[0.035,-0.07],[0.038,-0.076],[0.04,-0.08],[0.008,0.004],[0.01,0],[0.013,-0.006],[0.015,-0.01],[0.018,-0.016],[0.02,-0.02],[0.023,-0.026],[0.025,-0.03],[0.028,-0.036],[0.03,-0.04],[0.033,-0.046],[0.035,-0.05],[0.038,-0.056],[0.04,-0.06],[0.043,-0.066],[0.045,-0.07],[0.012,0.016],[0.015,0.01],[0.018,0.004],[0.02,0],[0.023,-0.006],[0.025,-0.01],[0.028,-0.016],[0.03,-0.02],[0.033,-0.026],[0.035,-0.03],[0.038,-0.036],[0.04,-0.04],[0.043,-0.046],[0.045,-0.05],[0.048,-0.056],[0.05,-0.06],[0.018,0.024],[0.02,0.02],[0.023,0.014],[0.025,0.01],[0.028,0.004],[0.03,0],[0.033,-0.006],[0.035,-0.01],[0.038,-0.016],[0.04,-0.02],[0.045,-0.03],[0.05,-0.04],[0.025,0.03],[0.028,0.024],[0.03,0.02],[0.033,0.014],[0.035,0.01],[0.04,0],[0.03,0.045],[0.055,-0.07],[0.06,-0.08],[0.075,-0.1],[0.09,-0.12],[0.092,-0.155],[0.005,0.0],[0.008,0.01]];
const pointSets = [wbcPts,rbcPts,hgbPts,hctPts,mcvPts,mchPts,mchcPts,rdwPts,pltPts,mpvPts,neuPts,lymPts,monPts,eosPts,basPts];

// ---------------- DRAWING ----------------
const FONT = "'Liberation Sans', Arial, Helvetica, sans-serif";
const CELL = 240, OFFX = -2;
const ROW_Y = [-5, 235, 475, 715, 946];
const TOP = 43, BOTTOM = 199, RIGHT = 232, BASE_LEFT = 25.5, TICK_FS = 11.5;
const svg = d3.select('#chart').attr('font-family', FONT);
svg.append('rect').attr('width',709).attr('height',1185).attr('fill','#fff');
const meas = svg.append('text').attr('font-size', TICK_FS).attr('visibility','hidden');
const textW = s => { meas.text(s); return meas.node().getComputedTextLength(); };

function minors(ticks, dom){
  const step = ticks.length > 1 ? ticks[1]-ticks[0] : 1;
  const out = [];
  for (let k = -1; k < ticks.length; k++) {
    const v = ticks[0] + step*(k + 0.5);
    if (v >= dom[0] && v <= dom[1]) out.push(v);
  }
  return out;
}

titles.forEach((title, i) => {
  const col = i % 3, row = Math.floor(i / 3);
  const g = svg.append('g').attr('transform', `translate(${OFFX + col*CELL},${ROW_Y[row]})`);
  const fx = d3.format(`.${xTickDecimals[i]}f`), fy = d3.format(`.${yTickDecimals[i]}f`);
  const maxW = d3.max(yTicks[i].map(fy), textW);
  const left = BASE_LEFT + maxW;
  const x = d3.scaleLinear().domain(xDomains[i]).range([left, RIGHT]);
  const y = d3.scaleLinear().domain(yDomains[i]).range([BOTTOM, TOP]);

  const grid = g.append('g');
  grid.selectAll('.mx').data(minors(xTicks[i], xDomains[i])).join('line')
    .attr('x1', d=>x(d)).attr('x2', d=>x(d)).attr('y1', TOP).attr('y2', BOTTOM)
    .attr('stroke', '#f1f1f1').attr('stroke-width', 0.6);
  grid.selectAll('.my').data(minors(yTicks[i], yDomains[i])).join('line')
    .attr('y1', d=>y(d)).attr('y2', d=>y(d)).attr('x1', left).attr('x2', RIGHT)
    .attr('stroke', '#f1f1f1').attr('stroke-width', 0.6);
  grid.selectAll('.Mx').data(xTicks[i]).join('line')
    .attr('x1', d=>x(d)).attr('x2', d=>x(d)).attr('y1', TOP).attr('y2', BOTTOM)
    .attr('stroke', '#e6e6e6').attr('stroke-width', 1.1);
  grid.selectAll('.My').data(yTicks[i]).join('line')
    .attr('y1', d=>y(d)).attr('y2', d=>y(d)).attr('x1', left).attr('x2', RIGHT)
    .attr('stroke', '#e6e6e6').attr('stroke-width', 1.1);

  g.append('g').selectAll('circle').data(pointSets[i]).join('circle')
    .attr('cx', d=>x(d[0])).attr('cy', d=>y(d[1])).attr('r', 2.2)
    .attr('fill', '#000').attr('fill-opacity', 0.6);

  [upperLoA[i], lowerLoA[i]].forEach(v => {
    g.append('line').attr('x1', left).attr('x2', RIGHT).attr('y1', y(v)).attr('y2', y(v))
      .attr('stroke', '#ff0000').attr('stroke-width', 2.8).attr('stroke-dasharray', '2.8,7.9');
  });
  g.append('line').attr('x1', left).attr('x2', RIGHT).attr('y1', y(meanDiff[i])).attr('y2', y(meanDiff[i]))
    .attr('stroke', '#0000ff').attr('stroke-width', 3).attr('stroke-dasharray', '13,8');

  const ax = g.append('g').attr('transform', `translate(0,${BOTTOM})`)
    .call(d3.axisBottom(x).tickValues(xTicks[i]).tickFormat(fx).tickSize(0).tickPadding(6.8));
  const ay = g.append('g').attr('transform', `translate(${left},0)`)
    .call(d3.axisLeft(y).tickValues(yTicks[i]).tickFormat(fy).tickSize(0).tickPadding(4));
  [ax, ay].forEach(a => {
    a.select('.domain').remove();
    a.selectAll('text').attr('font-size', TICK_FS).attr('fill', '#4d4d4d').attr('font-family', FONT);
  });

  const cx = (left + RIGHT) / 2;
  g.append('text').attr('x', cx).attr('y', 15.5).attr('text-anchor', 'middle')
    .attr('font-size', 12.5).attr('fill', '#000').text(title);
  g.append('text').attr('x', cx).attr('y', 26).attr('text-anchor', 'middle')
    .attr('font-size', 5.8).attr('fill', '#333').text(subtitle1[i]);
  g.append('text').attr('x', cx).attr('y', 34.5).attr('text-anchor', 'middle')
    .attr('font-size', 5.8).attr('fill', '#333').text(subtitle2[i]);

  if (col === 0) {
    g.append('text').attr('transform', `translate(16,${(TOP+BOTTOM)/2}) rotate(-90)`)
      .attr('text-anchor', 'middle').attr('font-size', 15).attr('fill', '#000').text('Difference');
  }
  if (row === 4) {
    g.append('text').attr('x', cx).attr('y', 235.5).attr('text-anchor', 'middle')
      .attr('font-size', 15).attr('fill', '#000').text('Mean');
  }
});
meas.remove();
</script>
</body></html>
